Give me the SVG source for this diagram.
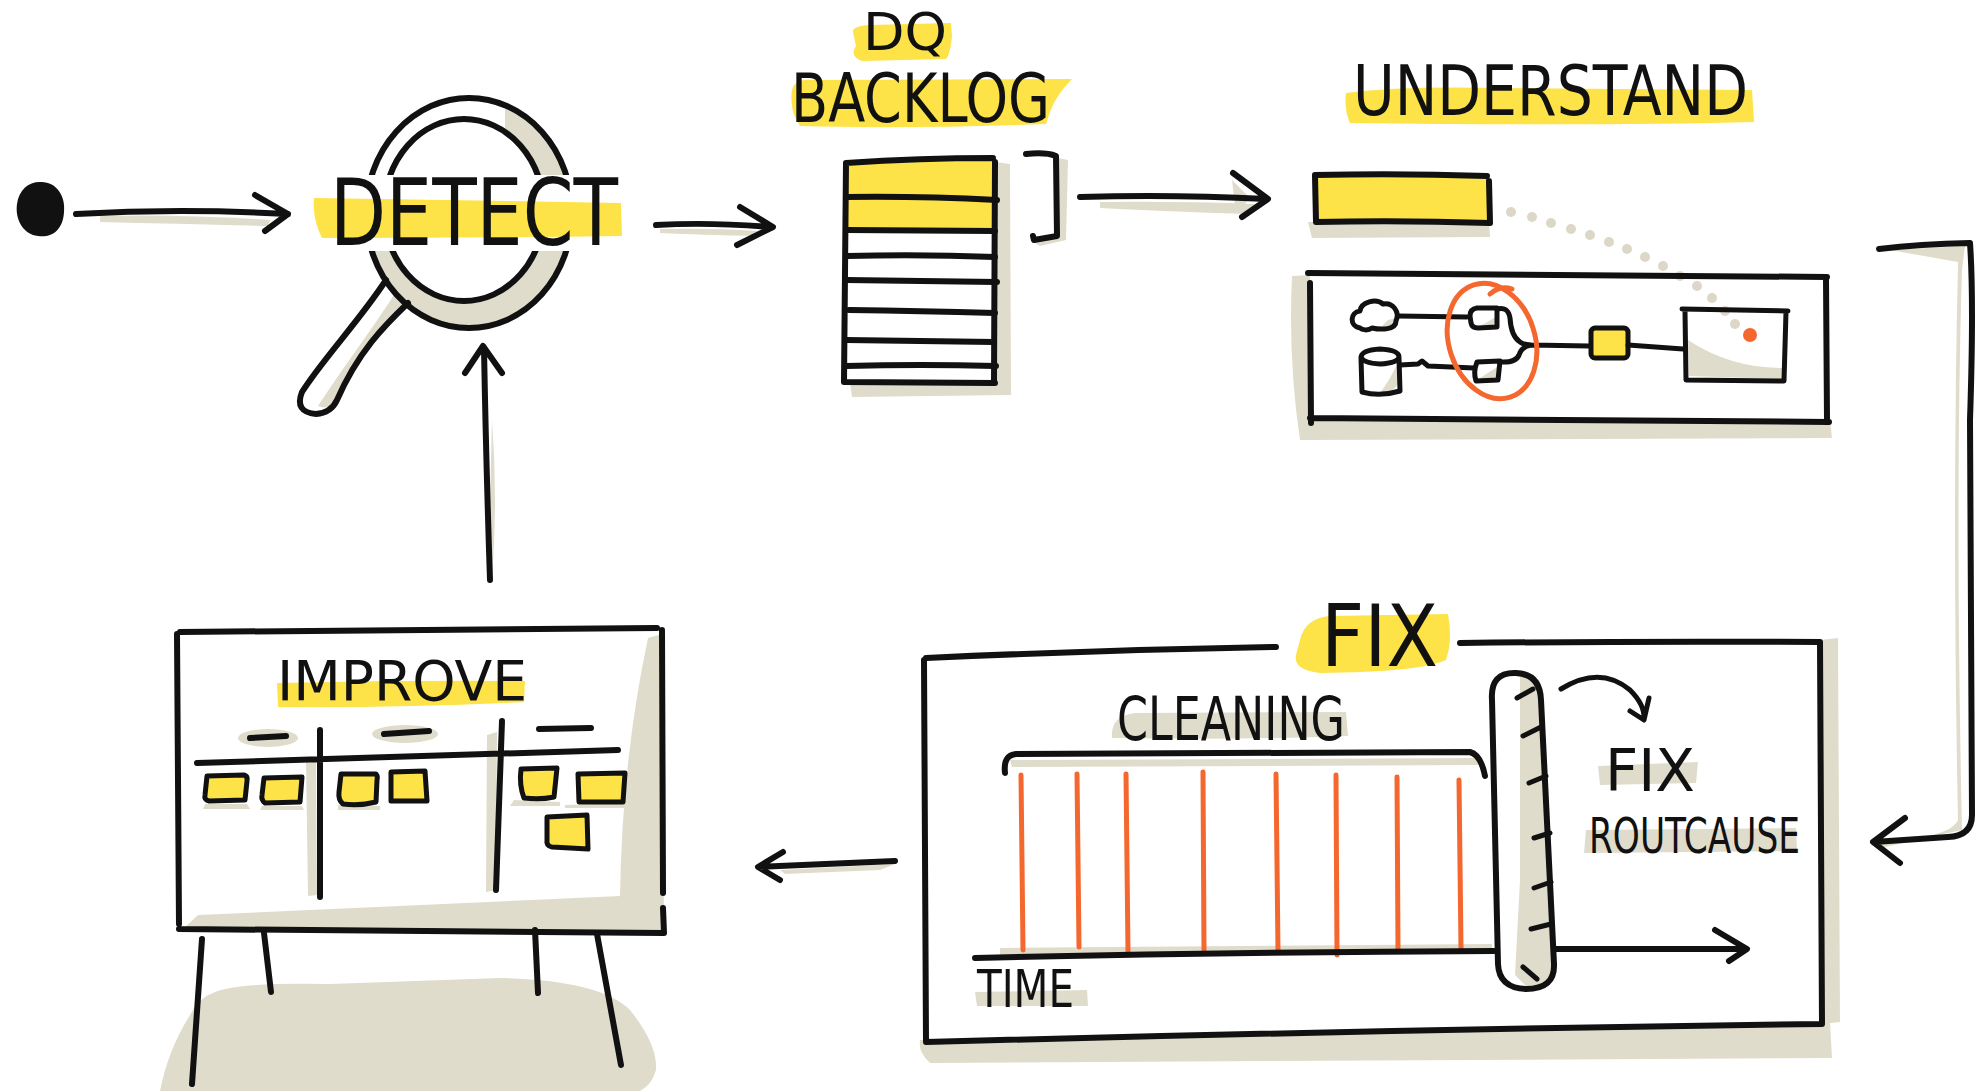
<svg xmlns="http://www.w3.org/2000/svg" width="1977" height="1091" viewBox="0 0 1977 1091">
  <defs>
    <style>
      .ink{fill:none;stroke:#111;stroke-width:6;stroke-linecap:round;stroke-linejoin:round}
      .thin{stroke-width:5}
      .shade{fill:#e0dccc}
      .hl{fill:#fde347}
      .org{fill:none;stroke:#f4682f;stroke-width:5;stroke-linecap:round;stroke-linejoin:round}
      .note{fill:#fde347;stroke:#111;stroke-width:5;stroke-linejoin:round}
      .txt{font-family:"Liberation Sans Narrow","DejaVu Sans Condensed","Liberation Sans",sans-serif;fill:#111}
      .dot{fill:#dcd7c7}
    </style>
    <clipPath id="ringClip">
      <rect x="340" y="80" width="260" height="95"/>
      <rect x="340" y="251" width="260" height="100"/>
    </clipPath>
    <clipPath id="ringShadeClip">
      <rect x="505" y="80" width="95" height="95"/>
      <rect x="340" y="251" width="260" height="100"/>
    </clipPath>
  </defs>
  <rect width="1977" height="1091" fill="#fff"/>

  <!-- start point -->
  <g id="start">
    <path d="M40 182 C56 181 66 196 64 212 C63 230 52 238 38 236 C22 234 15 218 17 204 C19 190 28 182 40 182 Z" fill="#111"/>
  </g>

  <!-- detect: magnifier with label -->
  <g id="detect">
    <path class="shade" fill-rule="evenodd" clip-path="url(#ringShadeClip)" d="M572 213 A103 115 0 1 1 366 213 A103 115 0 1 1 572 213 Z M544 210 A80 91 0 1 1 384 210 A80 91 0 1 1 544 210 Z"/>
    <path d="M386 280 C360 320 322 360 302 392 Q294 412 316 414 Q331 413 337 400 C358 352 384 326 408 303 Z" fill="#fff"/>
    <path class="shade" d="M396 292 C370 332 340 372 318 406 Q333 411 337 400 C358 352 384 326 408 303 Z"/>
    <path class="ink" d="M386 280 C360 320 322 360 302 392 Q294 412 316 414 Q331 413 337 400 C358 352 384 326 408 303"/>
    <g clip-path="url(#ringClip)">
      <ellipse class="ink" cx="469" cy="213" rx="103" ry="115"/>
      <ellipse class="ink" cx="464" cy="210" rx="80" ry="91"/>
    </g>
    <path class="hl" d="M314 198 Q460 200 621 203 L622 236 Q470 238 322 238 Q312 218 314 198 Z"/>
    <text class="txt" x="330" y="245" font-size="92" textLength="288" lengthAdjust="spacingAndGlyphs">DETECT</text>
  </g>

  <!-- DQ backlog -->
  <g id="backlog">
    <path class="hl" d="M853 32 Q852 26 870 25 L951 23 L952 36 Q950 55 946 59 L862 61 Q849 56 856 46 Z"/>
    <path class="hl" d="M792 90 Q795 78 812 80 L1072 79 Q1056 95 1050 112 L1046 124 Q900 129 800 126 Q789 110 792 90 Z"/>
    <text class="txt" x="863" y="50" font-size="52" textLength="84" lengthAdjust="spacingAndGlyphs">DQ</text>
    <text class="txt" x="791" y="122" font-size="68" textLength="259" lengthAdjust="spacingAndGlyphs">BACKLOG</text>
    <path class="shade" d="M996 162 L1010 164 L1011 395 L852 397 L850 382 L995 381 Z"/>
    <path class="hl" d="M846 164 L994 160 L995 231 L846 230 Z"/>
    <path class="ink" d="M846 163 Q920 158 993 158 M995 162 L994 382 M846 163 L844 382 L995 383"/>
    <path class="ink" d="M846 197 Q920 196 997 200 M846 230 L995 231 M847 256 Q920 254 995 257 M846 280 L997 282 M849 310 Q920 311 995 313 M846 340 L994 342 M846 366 Q920 364 996 366"/>
    <path class="shade" d="M1058 158 L1068 160 L1066 240 L1040 246 L1030 240 L1058 236 Z"/>
    <path class="ink" d="M1026 154 Q1046 152 1056 156 L1057 236 L1034 240 L1033 236"/>
  </g>

  <!-- understand: highlighted step and lineage panel -->
  <g id="understand">
    <path class="hl" d="M1346 93 Q1400 86 1500 88 L1752 90 L1754 122 Q1600 126 1350 123 Q1344 110 1346 93 Z"/>
    <text class="txt" x="1353" y="115" font-size="69" textLength="395" lengthAdjust="spacingAndGlyphs">UNDERSTAND</text>
    <path class="shade" d="M1308 222 L1489 222 L1490 237 L1312 238 Z"/>
    <path class="hl" d="M1315 175 L1489 176 L1489 223 L1316 222 Z"/>
    <path class="ink" d="M1315 175 Q1400 173 1487 176 M1489 181 L1490 223 M1315 176 L1316 222 Q1400 220 1490 223"/>
    <g>
      <circle class="dot" cx="1511" cy="212" r="5"/><circle class="dot" cx="1532" cy="217" r="5"/>
      <circle class="dot" cx="1551" cy="223" r="5"/><circle class="dot" cx="1571" cy="229" r="5"/>
      <circle class="dot" cx="1590" cy="235" r="5"/><circle class="dot" cx="1609" cy="242" r="5"/>
      <circle class="dot" cx="1627" cy="249" r="5"/><circle class="dot" cx="1645" cy="257" r="5"/>
      <circle class="dot" cx="1663" cy="266" r="5"/><circle class="dot" cx="1680" cy="276" r="5"/>
      <circle class="dot" cx="1697" cy="286" r="5"/><circle class="dot" cx="1712" cy="298" r="5"/>
      <circle class="dot" cx="1725" cy="311" r="5"/><circle class="dot" cx="1735" cy="324" r="5"/>
    </g>
    <path class="shade" d="M1292 276 L1310 275 L1311 420 L1830 421 L1832 438 L1300 440 Q1288 360 1292 276 Z"/>
    <path class="ink" d="M1308 273 Q1560 274 1827 277 M1310 283 L1311 423 M1310 418 Q1570 421 1829 422 M1826 279 L1827 420"/>
    <!-- source nodes -->
    <path class="shade" d="M1380 328 Q1394 328 1396 318 L1388 320 Q1382 326 1380 328 Z"/>
    <path class="ink thin" d="M1360 328 C1349 326 1350 312 1360 311 C1361 302 1376 298 1383 304 C1393 302 1400 312 1396 321 C1396 330 1381 330 1372 328 C1368 331 1362 330 1360 328 Z"/>
    <path class="shade" d="M1386 392 Q1398 390 1399 378 L1398 362 Q1390 380 1380 393 Z"/>
    <path class="ink thin" d="M1361 357 Q1362 350 1380 349 Q1399 350 1399 357 Q1398 363 1380 364 Q1363 363 1361 357 Z M1361 358 L1362 392 Q1380 397 1400 391 L1399 358"/>
    <path class="ink thin" d="M1398 316 L1467 317 M1400 365 L1418 364 L1422 361 L1428 366 L1474 368"/>
    <!-- joins -->
    <path class="shade" d="M1478 327 L1497 327 L1497 316 Q1488 322 1478 327 Z M1477 380 L1497 380 L1499 366 Q1486 374 1477 380 Z"/>
    <path class="ink thin" d="M1497 308 L1477 308 Q1470 309 1470 316 L1471 323 Q1472 328 1478 328 L1497 327 Z M1477 362 L1500 361 L1498 380 L1476 381 Q1473 372 1477 362 Z"/>
    <path class="ink thin" d="M1497 309 Q1508 306 1510 318 Q1511 336 1520 342 Q1524 345 1531 345 L1589 346 M1500 362 Q1516 363 1519 355 Q1522 346 1531 345"/>
    <rect x="1591" y="328" width="37" height="30" rx="4" class="note"/>
    <path class="ink thin" d="M1628 345 L1683 349"/>
    <path class="shade" d="M1688 340 L1689 376 L1782 379 L1783 368 Q1730 368 1688 340 Z"/>
    <path class="ink thin" d="M1682 309 L1788 311 M1685 311 L1686 380 L1784 381 L1786 312"/>
    <ellipse class="org" cx="1492" cy="341" rx="43" ry="59" transform="rotate(-18 1492 341)"/>
    <path class="org" d="M1490 294 Q1500 285 1512 289"/>
    <circle cx="1750" cy="335" r="7" fill="#f4682f"/>
  </g>

  <!-- fix: timeline of cleaning and root-cause wall -->
  <g id="fix">
    <path class="shade" d="M920 1040 L1830 1022 L1832 1058 L930 1063 Q918 1052 920 1040 Z"/>
    <path class="shade" d="M1820 640 L1838 638 L1840 1022 L1822 1024 Z"/>
    <path class="hl" d="M1300 640 Q1305 618 1330 616 L1448 614 Q1453 640 1446 660 Q1420 672 1320 673 Q1293 670 1296 655 Z"/>
    <text class="txt" x="1321" y="666" font-size="86" textLength="117" lengthAdjust="spacingAndGlyphs">FIX</text>
    <path class="ink" d="M926 658 Q1100 650 1276 647 M1460 643 Q1640 641 1820 642 M924 660 L926 1042 Q1370 1030 1822 1024 M1820 642 L1822 1024"/>
    <path class="shade" d="M1112 738 Q1110 716 1135 713 L1346 712 L1348 736 Q1250 740 1112 738 Z"/>
    <text class="txt" x="1117" y="740" font-size="60" textLength="228" lengthAdjust="spacingAndGlyphs">CLEANING</text>
    <path class="shade" d="M1010 760 L1478 758 L1480 765 L1012 767 Z"/>
    <path class="ink" d="M1005 773 Q1003 755 1016 754 L1470 752 Q1481 755 1485 776"/>
    <path class="shade" d="M1000 948 L1492 944 L1492 952 L1000 955 Z"/>
    <g class="org">
      <path d="M1021 775 L1023 950"/><path d="M1077 774 L1079 947"/>
      <path d="M1126 774 L1128 952"/><path d="M1203 772 L1204 950"/>
      <path d="M1276 774 L1278 952"/><path d="M1336 775 L1337 955"/>
      <path d="M1397 777 L1398 949"/><path d="M1459 780 L1461 948"/>
    </g>
    <path class="ink" d="M975 958 Q1240 952 1494 951 M1556 949 L1746 949 M1715 930 L1747 949 L1729 961"/>
    <path class="shade" d="M975 992 L1087 990 L1088 1006 L977 1006 Z"/>
    <text class="txt" x="977" y="1007" font-size="52" textLength="97" lengthAdjust="spacingAndGlyphs">TIME</text>
    <path d="M1492 700 Q1490 672 1516 673 Q1540 674 1541 700 L1554 964 Q1555 989 1526 989 Q1499 988 1498 964 Z" fill="#fff"/>
    <path class="shade" d="M1520 676 Q1538 678 1541 700 L1554 964 Q1555 987 1528 988 L1515 975 L1520 880 Z"/>
    <path class="ink" d="M1492 700 Q1490 672 1516 673 Q1540 674 1541 700 L1554 964 Q1555 989 1526 989 Q1499 988 1498 964 Z"/>
    <path class="ink thin" d="M1517 698 L1533 689 M1523 736 L1541 727 M1529 783 L1546 776 M1534 838 L1550 833 M1534 888 L1551 882 M1531 929 L1551 924 M1523 967 L1537 979"/>
    <path class="ink thin" d="M1561 689 Q1600 665 1630 690 Q1645 705 1644 719 M1630 711 L1644 720 L1649 698"/>
    <path class="shade" d="M1598 766 L1698 762 L1696 783 L1600 785 Z"/>
    <text class="txt" x="1605" y="791" font-size="58" textLength="90" lengthAdjust="spacingAndGlyphs">FIX</text>
    <path class="shade" d="M1586 830 L1796 828 L1797 851 L1584 853 Z"/>
    <text class="txt" x="1589" y="853" font-size="50" textLength="211" lengthAdjust="spacingAndGlyphs">ROUTCAUSE</text>
  </g>

  <!-- improve: retro board on easel -->
  <g id="improve">
    <path class="shade" d="M215 992 Q240 982 330 984 L500 978 Q600 980 630 1010 Q658 1045 656 1070 Q652 1085 640 1091 L160 1091 Q168 1050 190 1015 Q198 998 215 992 Z"/>
    <path class="shade" d="M648 638 L662 634 L664 930 L182 930 L198 915 Q420 905 620 896 Q622 760 648 638 Z"/>
    <path class="ink" d="M180 632 Q420 629 657 628 M177 634 L179 924 M179 929 Q420 930 664 933 M662 630 L663 893 M663 908 L664 933"/>
    <path class="ink" d="M202 939 L192 1084 M264 933 L271 992 M535 930 L538 993 M597 934 L621 1065"/>
    <path class="hl" d="M277 683 Q400 680 525 681 L524 702 Q400 708 278 707 Z"/>
    <text class="txt" x="277" y="700" font-size="55" textLength="250" lengthAdjust="spacingAndGlyphs">IMPROVE</text>
    <ellipse class="shade" cx="268" cy="738" rx="30" ry="9"/>
    <ellipse class="shade" cx="405" cy="734" rx="33" ry="9"/>
    <path class="shade" d="M306 760 L316 758 L317 895 L308 896 Z M487 735 L497 732 L496 890 L486 892 Z"/>
    <path class="ink" d="M250 738 L286 736 M384 734 L429 731 M539 729 L591 728 M197 763 Q400 756 618 750 M320 730 L320 897 M502 721 L496 890"/>
    <path class="shade" d="M205 804 L247 804 L250 809 L203 809 Z M262 806 L302 806 L304 810 L260 810 Z M338 805 L380 806 L380 810 L338 810 Z M514 800 L560 802 L560 806 L510 806 Z M565 805 L626 803 L626 808 L565 808 Z"/>
    <path class="note" d="M207 776 L244 775 Q248 776 247 781 L245 800 L209 801 Q204 800 205 795 Z"/>
    <path class="note" d="M264 778 L302 777 L300 802 L265 803 Q261 800 262 795 Z"/>
    <path class="note" d="M341 774 L376 774 Q378 776 377 780 L376 802 Q360 806 343 804 Q338 800 339 792 Z"/>
    <path class="note" d="M391 772 L425 771 L427 801 L391 801 Z"/>
    <path class="note" d="M521 769 L557 768 L554 797 Q540 800 524 798 Q519 785 521 769 Z"/>
    <path class="note" d="M578 774 L625 773 L623 802 L579 802 Z"/>
    <path class="note" d="M547 817 L587 815 L588 849 L552 847 Q546 846 547 840 Z"/>
  </g>

  <!-- connectors -->
  <g id="connectors">
    <path class="shade" d="M100 216 Q180 214 270 220 L268 226 Q180 224 100 222 Z"/>
    <path class="ink" d="M76 214 Q180 208 288 214 M255 195 L288 214 L265 231"/>
    <path class="shade" d="M660 229 Q710 228 760 231 L758 236 Q700 235 660 233 Z"/>
    <path class="ink" d="M656 225 Q710 222 772 227 M740 207 L773 227 L737 245"/>
    <path class="shade" d="M1100 202 Q1180 201 1255 204 L1250 214 Q1180 212 1100 208 Z M1232 180 L1250 198 L1236 214 Z"/>
    <path class="ink" d="M1080 197 Q1170 194 1267 199 M1233 173 L1268 199 L1242 217"/>
    <path class="shade" d="M1890 250 L1965 246 L1962 270 Q1955 500 1962 830 L1880 848 L1880 842 Q1950 838 1958 820 Q1952 520 1958 262 Z"/>
    <path class="ink" d="M1879 249 Q1920 244 1970 243 Q1974 300 1970 420 L1972 815 Q1972 836 1948 837 L1874 842 M1905 818 L1873 842 L1900 863"/>
    <path class="shade" d="M780 870 L895 864 L880 870 L785 874 Z"/>
    <path class="ink" d="M895 861 L759 867 M783 852 L758 867 L780 880"/>
    <path class="shade" d="M492 420 Q498 500 492 578 L488 578 Z"/>
    <path class="ink" d="M490 580 Q486 460 484 348 M465 373 L483 346 L502 373"/>
  </g>
</svg>
